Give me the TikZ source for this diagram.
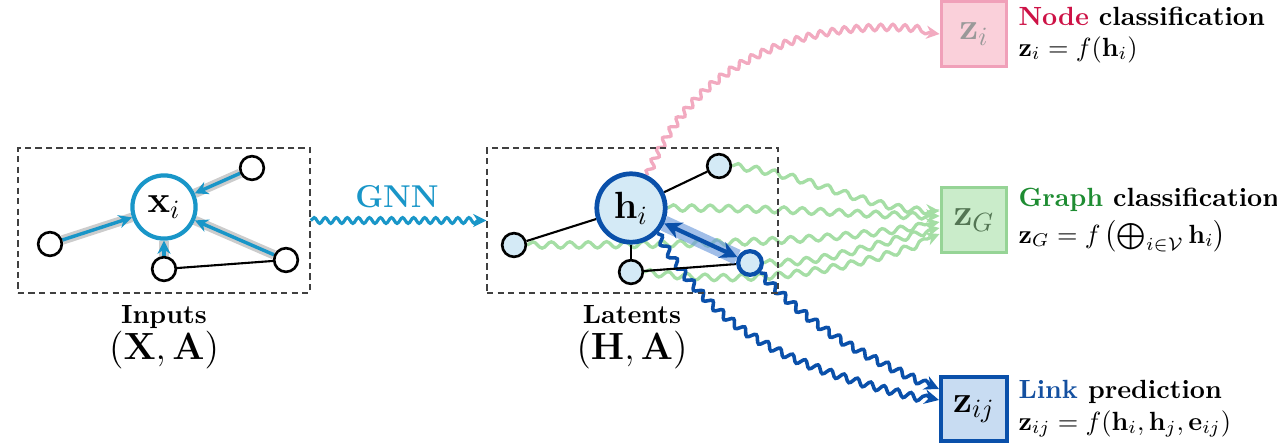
\documentclass[tikz,border=0pt]{standalone}
\usetikzlibrary{arrows.meta,decorations.pathmorphing,calc}
\pgfdeclarelayer{bg}
\pgfsetlayers{bg,main}
\definecolor{cyanb}{RGB}{25,150,200}
\definecolor{dblue}{RGB}{10,80,170}
\definecolor{lblue}{RGB}{212,234,246}
\definecolor{hblue}{RGB}{110,155,220}
\definecolor{pline}{RGB}{242,170,192}
\definecolor{pfill}{RGB}{250,208,218}
\definecolor{pborder}{RGB}{240,160,185}
\definecolor{gline}{RGB}{165,222,165}
\definecolor{gfill}{RGB}{202,236,202}
\definecolor{gborder}{RGB}{150,212,150}
\definecolor{nodered}{RGB}{205,18,70}
\definecolor{graphgreen}{RGB}{30,140,50}
\definecolor{linkblue}{RGB}{20,80,160}
\definecolor{zlblue}{RGB}{200,220,242}
\begin{document}
\begin{tikzpicture}[x=0.38pt,y=0.38pt,
  dashbox/.style={rectangle,draw=black!75,dash pattern=on 2.4pt off 1.6pt,line width=0.5pt,inner sep=0pt,minimum height=55pt},
  smallnode/.style={circle,draw=black,line width=1pt,minimum size=9pt,inner sep=0pt,fill=white},
  bignode/.style={circle,line width=1.6pt,minimum size=24pt,inner sep=0pt,font=\Large},
  zbox/.style={rectangle,minimum width=25pt,minimum height=24.5pt,line width=1.2pt,inner sep=0pt,font=\Large},
  halo/.style={draw=black!20,line width=3.6pt},
  cyarrow/.style={draw=cyanb,line width=1.3pt,-{Stealth[length=5pt,width=5pt]}},
  edge/.style={draw=black,line width=0.8pt},
  gnnwave/.style={draw=cyanb,line width=1.2pt,decorate,decoration={snake,amplitude=1.1pt,segment length=4.2pt,post length=2.5pt},-{Stealth[length=5pt,width=5pt]}},
  pwave/.style={draw=pline,line width=1.25pt,decorate,decoration={snake,amplitude=1.2pt,segment length=4.6pt,post length=3pt},-{Stealth[length=5pt,width=5pt]}},
  gwave/.style={draw=gline,line width=1.25pt,decorate,decoration={snake,amplitude=1.2pt,segment length=7pt,post length=3pt},-{Stealth[length=5pt,width=5pt]}},
  bwave/.style={draw=dblue,line width=1.35pt,decorate,decoration={snake,amplitude=1.3pt,segment length=5.3pt,post length=3pt},-{Stealth[length=5.5pt,width=5.5pt]}},
  tlabel/.style={anchor=base west,inner sep=0pt}
]
\useasboundingbox (0,0) rectangle (1277,447);

% dashed panels
\node[dashbox,minimum width=111pt] (inbox) at (164,226.5) {};
\node[dashbox,minimum width=110.6pt] (latbox) at (632.5,226.5) {};

% input graph
\node[bignode,draw=cyanb,fill=white] (xi) at (164,240) {$\mathbf{x}_i$};
\node[smallnode] (a1) at (252,279) {};
\node[smallnode] (a2) at (50,203) {};
\node[smallnode] (a3) at (164,178) {};
\node[smallnode] (a4) at (286,187) {};

% latent graph
\node[bignode,draw=dblue,fill=lblue,line width=1.8pt,minimum size=26pt] (hi) at (631,239) {$\mathbf{h}_i$};
\node[smallnode,fill=lblue] (b1) at (719,281) {};
\node[smallnode,fill=lblue] (b2) at (514,202) {};
\node[smallnode,fill=lblue] (b3) at (631,175) {};
\node[smallnode,fill=lblue,draw=dblue,line width=1.6pt] (hj) at (750,184) {};

% output boxes
\node[zbox,draw=pborder,fill=pfill,text=black!40] (zi) at (974,413) {$\mathbf{z}_i$};
\node[zbox,draw=gborder,fill=gfill,text=black!45!gborder] (zg) at (974,227) {$\mathbf{z}_G$};
\node[zbox,draw=dblue,fill=zlblue,line width=1.6pt] (zij) at (974,38) {$\mathbf{z}_{ij}$};

% output texts
\node[tlabel] (t1) at (1018,422) {\textbf{\textcolor{nodered}{Node} classification}};
\node[tlabel] (f1) at (1018,391) {$\mathbf{z}_i = f(\mathbf{h}_i)$};
\node[tlabel] (t2) at (1018,241) {\textbf{\textcolor{graphgreen}{Graph} classification}};
\node[tlabel] (f2) at (1018,204) {$\mathbf{z}_G = f\left(\bigoplus_{i\in\mathcal{V}}\mathbf{h}_i\right)$};
\node[tlabel] (t3) at (1018,49) {\textbf{\textcolor{linkblue}{Link} prediction}};
\node[tlabel] (f3) at (1018,17) {$\mathbf{z}_{ij} = f(\mathbf{h}_i,\mathbf{h}_j,\mathbf{e}_{ij})$};

% panel labels
\node[font=\bfseries] (inl) at (164,130) {Inputs};
\node[font=\Large] (inm) at (164,97) {$(\mathbf{X},\mathbf{A})$};
\node[font=\bfseries] (latl) at (632,132) {Latents};
\node[font=\Large] (latm) at (632,97) {$(\mathbf{H},\mathbf{A})$};
\node[font=\large\bfseries,text=cyanb] (gnnl) at (397,250) {GNN};

\begin{pgfonlayer}{bg}
  % input edges
  \draw[halo] (a1) -- (xi);
  \draw[halo] (a2) -- (xi);
  \draw[halo] (a3) -- (xi);
  \draw[halo] (a4) -- (xi);
  \draw[cyarrow] (a1) -- (xi);
  \draw[cyarrow] (a2) -- (xi);
  \draw[cyarrow] (a3) -- (xi);
  \draw[cyarrow] (a4) -- (xi);
  \draw[edge] (a3) -- (a4);

  % GNN
  \draw[gnnwave] (inbox.east) -- (latbox.west);

  % green waves
  \draw[gwave] (b1.east) .. controls (820,270) and (860,236) .. ($(zg.west)+(0,9)$);
  \draw[gwave] (hi.east) .. controls (800,239) and (860,231) .. ($(zg.west)+(0,4)$);
  \draw[gwave] (b2.east) .. controls (700,202) and (840,205) .. ($(zg.west)+(0,-2)$);
  \draw[gwave] (hj.east) .. controls (830,184) and (870,205) .. ($(zg.west)+(0,-8)$);
  \draw[gwave] (b3.east) .. controls (760,160) and (860,180) .. ($(zg.west)+(0,-14)$);

  % pink wave
  \draw[pwave] (hi.63) to[out=68,in=172] (zi.west);

  % blue waves
  \draw[bwave] (hi.-44) to[out=-60,in=167] ($(zij.west)+(0,9)$);
  \draw[bwave] (hj.-45) to[out=-46,in=155] ($(zij.west)+(0,20)$);

  % latent edges
  \draw[edge] (hi) -- (b1);
  \draw[edge] (hi) -- (b2);
  \draw[edge] (hi) -- (b3);
  \draw[edge] (b3) -- (hj);
  \draw[draw=hblue,opacity=0.65,line width=6pt] (hi) -- (hj);
  \draw[draw=dblue,line width=1.6pt,{Stealth[length=6.5pt,width=6.5pt]}-{Stealth[length=6.5pt,width=6.5pt]}] (hi) -- (hj);
\end{pgfonlayer}
\end{tikzpicture}
\end{document}
